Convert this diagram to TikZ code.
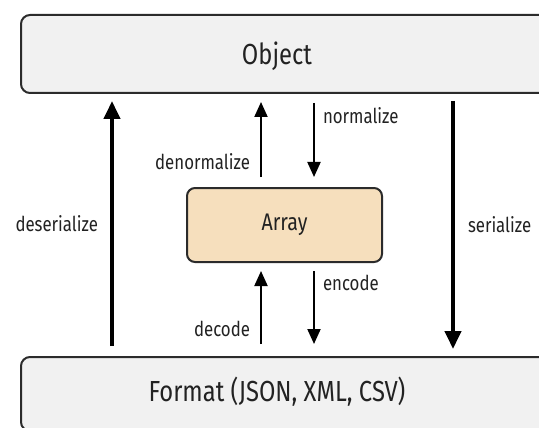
\documentclass[tikz,border=0pt]{standalone}
\usepackage{fontspec}
\setmainfont[FakeStretch=0.82]{Fira Sans}
\usetikzlibrary{arrows.meta}
\definecolor{txt}{HTML}{222222}
\definecolor{boxfill}{HTML}{F1F1F1}
\definecolor{boxline}{HTML}{2B2B2B}
\definecolor{arrfill}{RGB}{246,223,189}
\tikzset{
  bigbox/.style={draw=boxline, fill=boxfill, line width=2pt, rounded corners=9pt, inner sep=0pt},
  bigtext/.style={text=txt, font=\fontsize{29}{31}\selectfont, inner sep=0pt},
  arrbox/.style={draw=boxline, fill=arrfill, line width=2pt, rounded corners=8pt, text=txt, font=\fontsize{24}{26}\selectfont, minimum width=195pt, minimum height=74pt, inner sep=0pt},
  bigarrow/.style={line width=4pt, -{Triangle[width=16pt,length=18pt]}, draw=black},
  smallarrow/.style={line width=2pt, -{Triangle[width=13pt,length=15pt]}, draw=black},
  lbl/.style={text=txt, font=\fontsize{20.5}{22}\selectfont, inner sep=0pt}
}
\begin{document}
\begin{tikzpicture}[x=1pt,y=-1pt]
\useasboundingbox (0,0) rectangle (539,428);
\clip (0,0) rectangle (539,428);
\fill[white] (0,0) rectangle (539,428);
\node[bigbox, minimum width=560pt, minimum height=78pt] (obj) at (301,54) {};
\node[bigtext] (objt) at (277,56) {Object};
\node[bigbox, minimum width=560pt, minimum height=74pt] (fmt) at (301,394) {};
\node[bigtext] (fmtt) at (277,392) {Format (JSON, XML, CSV)};
\node[arrbox] (arr) at (284.5,225) {Array};
\coordinate (xl) at (112,0);
\coordinate (xr) at (453,0);
\coordinate (xu) at (261,0);
\coordinate (xd) at (314,0);
% big arrows
\draw[bigarrow] ([yshift=10pt]fmt.north -| xl) -- ([yshift=-7pt]obj.south -| xl)
  node[lbl, pos=0.5, anchor=east, xshift=-12pt] (ldes) {deserialize};
\draw[bigarrow] ([yshift=-7pt]obj.south -| xr) -- ([yshift=7pt]fmt.north -| xr)
  node[lbl, pos=0.5, anchor=west, xshift=13pt] (lser) {serialize};
% object <-> array
\draw[smallarrow] ([yshift=10pt]arr.north -| xu) -- ([yshift=-8pt]obj.south -| xu)
  node[lbl, pos=0.2, anchor=east, xshift=-10pt] (lden) {denormalize};
\draw[smallarrow] ([yshift=-9pt]obj.south -| xd) -- ([yshift=10pt]arr.north -| xd)
  node[lbl, pos=0.17, anchor=west, xshift=8pt] (lnor) {normalize};
% array <-> format
\draw[smallarrow] ([yshift=12pt]fmt.north -| xu) -- ([yshift=-8pt]arr.south -| xu)
  node[lbl, pos=0.2, anchor=east, xshift=-10pt] (ldec) {decode};
\draw[smallarrow] ([yshift=-8pt]arr.south -| xd) -- ([yshift=12pt]fmt.north -| xd)
  node[lbl, pos=0.17, anchor=west, xshift=8pt] (lenc) {encode};
\end{tikzpicture}
\end{document}
